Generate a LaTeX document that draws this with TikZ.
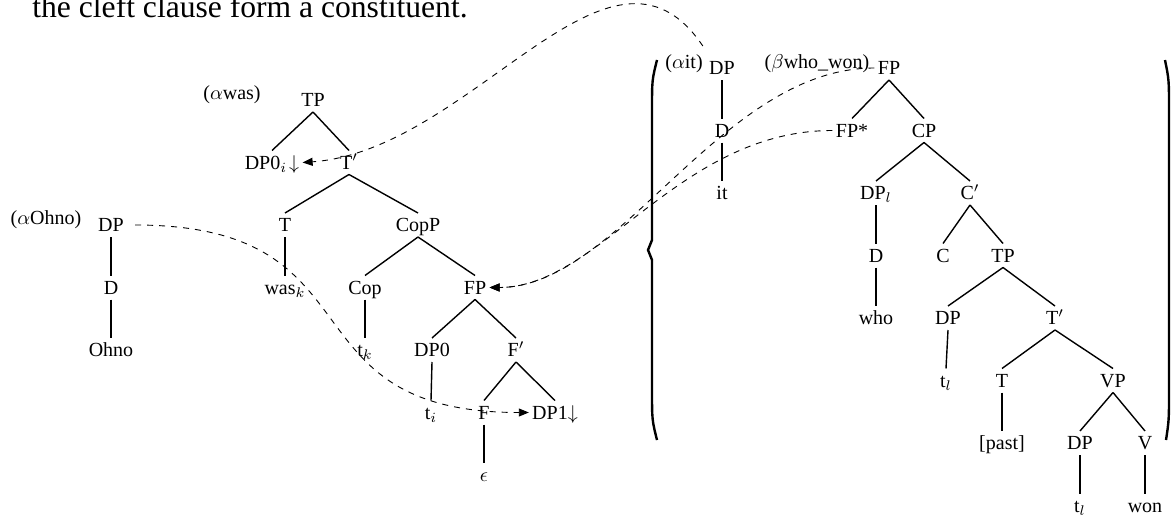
\documentclass[tikz,border=0pt]{standalone}
\usepackage{fontspec}
\setmainfont{Liberation Serif}
\usetikzlibrary{arrows.meta}

\begin{document}
\begin{tikzpicture}[
  x = 0.5pt, y = -0.5pt,
  every node/.style = {
      inner xsep=1.5pt, inner ysep=2.5pt, text height=6.6pt, text depth=0pt,
      font=\fontsize{10}{12}\selectfont
  },
  branch/.style = {line width=0.7pt},
  move/.style = {dashed, line width=0.45pt, -{Triangle[length=5pt,width=4pt]}},
  paren/.style = {line width=1.2pt}
]
  \useasboundingbox (0,0) rectangle (1171,514);

  % text line above the trees
  \node[anchor=base west, inner sep=0pt, text height=, text depth=,
        font=\fontsize{15.8}{19}\selectfont] (cap) at (32,18)
       {the cleft clause form a constituent.};

  % (alpha Ohno)
  \node (ohlbl) at (46,218) {($\alpha$Ohno)};
  \node (ohdp) at (111,225) {DP};
  \node (ohd) at (111,287.5) {D};
  \node (ohno) at (111,350) {Ohno};

  % (alpha was)
  \node (waslbl) at (232,93) {($\alpha$was)};
  \node (tp) at (313,100) {TP};
  \node (dpz) at (272,162.5) {DP0$_i\!\downarrow$};
  \node (tbar) at (349,162.5) {T$'$};
  \node (t) at (285,225) {T};
  \node (copp) at (418,225) {CopP};
  \node (was) at (285,287.5) {was$_k$};
  \node (cop) at (365,287.5) {Cop};
  \node (fp) at (475,287.5) {FP};
  \node (tk) at (365,350) {t$_k$};
  \node (dpzero) at (432,350) {DP0};
  \node (fbar) at (516,350) {F$'$};
  \node (ti) at (431,412.5) {t$_i$};
  \node (f) at (484,412.5) {F};
  \node (dpone) at (555,412.5) {DP1$\downarrow$};
  \node (eps) at (484,475) {$\epsilon$};

  % big parentheses
  \draw[paren] (657,60) .. controls (652,80) .. (652,110) -- (652,240)
               -- (648,250) -- (652,260) -- (652,390) .. controls (652,420) .. (657,440);
  \draw[paren] (1165,60) .. controls (1169,80) .. (1169,110) -- (1169,390)
               .. controls (1169,420) .. (1166,440);

  % (alpha it)
  \node (itlbl) at (684,62) {($\alpha$it)};
  \node (itdp) at (722,68) {DP};
  \node (itd) at (722,130.5) {D};
  \node (it) at (722,193) {it};

  % (beta who_won)
  \node (wwlbl) at (817,62) {($\beta$who\_won)};
  \node (bfp) at (889,68) {FP};
  \node (fpstar) at (852,130.5) {FP*};
  \node (cp) at (924,130.5) {CP};
  \node (dpl) at (876,193) {DP$_l$};
  \node (cbar) at (970,193) {C$'$};
  \node (dd) at (876,255.5) {D};
  \node (cc) at (943,255.5) {C};
  \node (tp2) at (1003,255.5) {TP};
  \node (who) at (876,318) {who};
  \node (dp2) at (948,318) {DP};
  \node (tbar2) at (1055,318) {T$'$};
  \node (tl) at (946,380.5) {t$_l$};
  \node (tt) at (1002,380.5) {T};
  \node (vp) at (1113,380.5) {VP};
  \node (past) at (1002,443) {[past]};
  \node (dp3) at (1080,443) {DP};
  \node (vv) at (1145,443) {V};
  \node (tl2) at (1080,505.5) {t$_l$};
  \node (won) at (1145,505.5) {won};

  % branches
  \foreach \a/\b in {ohdp/ohd, ohd/ohno,
      tp/dpz, tp/tbar, tbar/t, tbar/copp, t/was, copp/cop, copp/fp, cop/tk,
      fp/dpzero, fp/fbar, dpzero/ti, fbar/f, fbar/dpone, f/eps,
      itdp/itd, itd/it,
      bfp/fpstar, bfp/cp, cp/dpl, cp/cbar, dpl/dd, cbar/cc, cbar/tp2, dd/who,
      tp2/dp2, tp2/tbar2, dp2/tl, tbar2/tt, tbar2/vp, tt/past,
      vp/dp3, vp/vv, dp3/tl2, vv/won}
    \draw[branch] (\a.south) -- (\b.north);

  % substitution and adjunction links
  \draw[move] ([xshift=-1.5pt,yshift=5pt]itdp.north west)
      .. controls +(-93,-138) and +(170,-12) .. (dpz.east);
  \draw[move] (bfp.west) .. controls +(-154,0) and +(130,0) .. (fp.east);
  \draw[move] (fpstar.west) .. controls +(-154,0) and +(110,0) .. (fp.east);
  \draw[move] ([xshift=4pt]ohdp.east) .. controls +(250,0) and +(-250,0) .. (dpone.west);
\end{tikzpicture}
\end{document}
